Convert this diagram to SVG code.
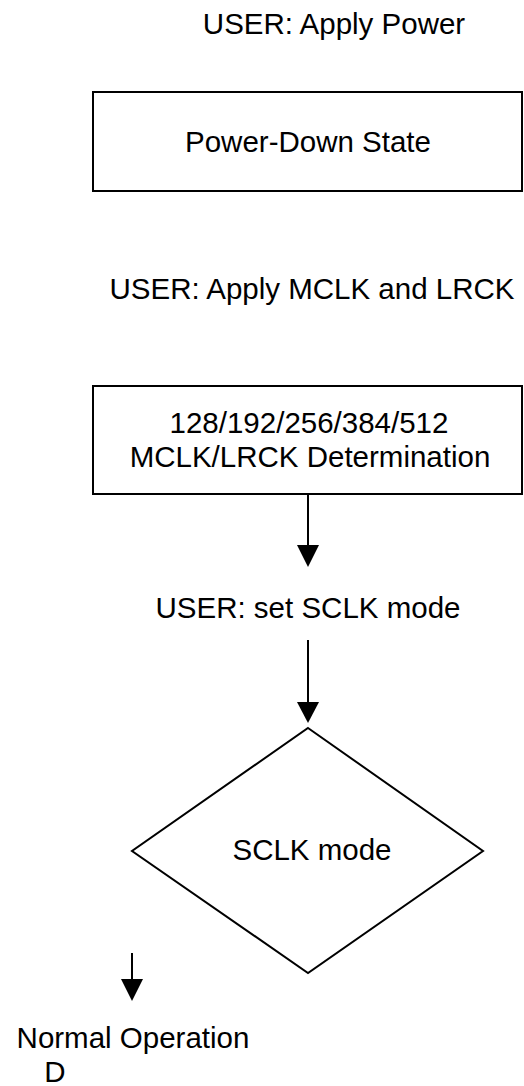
<svg xmlns="http://www.w3.org/2000/svg" width="524" height="1086" viewBox="0 0 524 1086">
<style>
text{font-family:"Liberation Sans",Arial,sans-serif;font-size:29.5px;fill:#000;text-anchor:middle}
.box{fill:#fff;stroke:#000;stroke-width:2}
.ln{stroke:#000;stroke-width:2;fill:none}
.head{fill:#000}
</style>
<rect width="524" height="1086" fill="#fff"/>
<g id="label-apply-power"><text x="334" y="34">USER: Apply Power</text></g>
<g id="power-down"><rect class="box" x="93" y="92" width="429" height="99"/><text x="308" y="152">Power-Down State</text></g>
<g id="label-apply-clk"><text x="312" y="299">USER: Apply MCLK and LRCK</text></g>
<g id="determination"><rect class="box" x="93" y="386" width="429" height="108"/><text x="309" y="433">128/192/256/384/512</text><text x="310" y="467">MCLK/LRCK Determination</text></g>
<g id="label-sclk"><text x="308" y="618">USER: set SCLK mode</text></g>
<g id="sclk-mode"><polygon class="box" points="308,728 483,851 308,973 132,851"/><text x="312" y="860">SCLK mode</text></g>
<g id="normal-op"><text x="133" y="1048">Normal Operation</text><text x="55" y="1082">D</text></g>
<g id="connectors">
<line class="ln" x1="308" y1="494" x2="308" y2="548"/><path class="head" d="M297,545 L319,545 L308,567 Z"/>
<line class="ln" x1="308" y1="640" x2="308" y2="705"/><path class="head" d="M297,702 L319,702 L308,723 Z"/>
<line class="ln" x1="132" y1="953" x2="132" y2="982"/><path class="head" d="M121,979 L143,979 L132,1001 Z"/>
</g>
</svg>
